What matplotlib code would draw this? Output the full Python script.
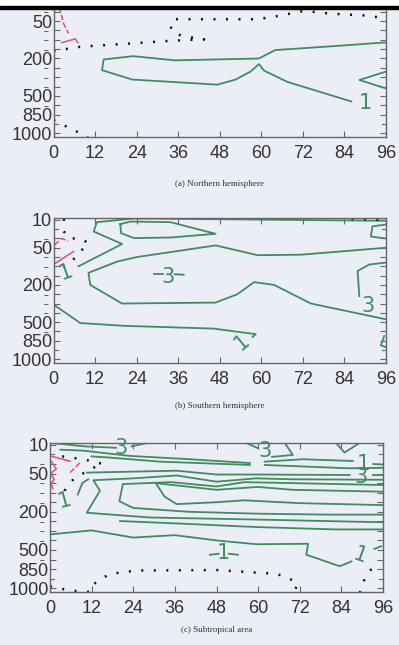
import matplotlib.pyplot as plt
from matplotlib.patches import Rectangle

plt.rcParams['font.family'] = ['Liberation Sans', 'DejaVu Sans']

# pressure levels (hPa) used on the vertical axis, top to bottom
levels = [10, 20, 30, 50, 70, 100, 150, 200, 250, 300, 400, 500, 700, 850, 925, 1000]
named_idx = [0, 3, 7, 11, 13, 15]
named_labels = ['10', '50', '200', '500', '850', '1000']
dash_idx = [2, 4, 5, 6, 8, 9, 10, 12]
plain_idx = [1, 14]
hours = [0, 12, 24, 36, 48, 60, 72, 84, 96]
captions = ['(a) Northern hemisphere', '(b) Southern hemisphere', '(c) Subtropical area']

# contour lines: hour, level index (0 = 10 hPa)
# (a) Northern hemisphere
a_g1_h = [96, 95, 80, 64, 59.3, 35, 23, 14.5, 14, 22.7, 47.3, 52.6, 56.9, 59.3, 60.8, 67.5, 86]
a_g1_k = [5.3, 5.3, 5.7, 6.1, 7.0, 7.2, 6.75, 7.1, 8.25, 9.25, 9.8, 9.25, 8.4, 7.6, 8.3, 9.5, 11.6]
a_g2_h = [96, 88.3, 96]
a_g2_k = [8.4, 9.3, 10.2]
a_d1_h = [0, 7.7, 22, 34, 43.5, 40, 37.5, 34.7, 33.8, 34.7, 59, 65.6, 72.4, 80, 90, 96]
a_d1_k = [6.2, 5.75, 5.4, 5.1, 4.95, 4.75, 4.6, 4.3, 3.6, 2.8, 2.8, 2.4, 1.9, 2.2, 2.4, 2.7]
a_d2_h = [0, 7.7, 10.5]
a_d2_k = [13.6, 15.0, 15.6]
a_r1_h = [1.0, 2.9, 4.3]
a_r1_k = [0.5, 3.25, 4.3]
a_r2_h = [2.4, 6.3, 7.0]
a_r2_k = [5.3, 4.9, 5.3]
a_labels = [(90, 11.8, '1', 0)]

# (b) Southern hemisphere
b_g1_h = [7.2, 19.8, 11.6, 12.5, 23.2, 96]
b_g1_k = [5.0, 2.6, 1.25, 0.25, -0.15, 0.1]
b_g2_h = [19.3, 22.2, 33.8, 46.8, 33.8, 23.2, 19.5, 19.3]
b_g2_k = [0.46, 0.18, 0.25, 1.5, 1.9, 1.96, 1.43, 0.46]
b_g3_h = [96, 71.4, 58.9, 46.8, 24.1, 18.3, 10.1, 10.6, 19.8, 46.8, 53.1, 57.9, 63.7, 74.3, 96]
b_g3_k = [3.0, 3.75, 3.8, 2.75, 4.0, 4.5, 5.7, 7.0, 9.0, 8.9, 8.0, 6.7, 7.0, 9.0, 10.7]
b_g4_h = [0, 7.7, 20.3, 46.3, 58.4, 57.5]
b_g4_k = [9.1, 11.1, 11.4, 11.7, 12.3, 12.6]
b_g5_h = [88.3, 87.8, 91.2, 96]
b_g5_k = [8.2, 5.5, 4.8, 4.6]
b_g6_h = [96, 92.1, 91.6, 96]
b_g6_k = [0.5, 0.7, 1.8, 2.0]
b_g7_h = [29, 31.5]
b_g7_k = [5.85, 5.85]
b_g8_h = [35, 37.6]
b_g8_k = [5.85, 5.9]
b_g9_h = [95.5, 94.5, 96]
b_g9_k = [12.5, 13.5, 13.7]
b_d1_h = [3.0, 2.9, 4.5, 7.7, 10.1, 7.0, 5.0, 1.0]
b_d1_k = [-0.1, 1.2, 2.0, 2.0, 2.5, 3.7, 4.6, 5.3]
b_d2_h = [86, 96]
b_d2_k = [-0.1, 0.0]
b_r1_h = [0.3, 2.4, 4.3]
b_r1_k = [2.7, 2.0, 2.3]
b_r2_h = [0, 5.8]
b_r2_k = [4.8, 3.4]
b_labels = [(3.6, 5.6, '1', 20), (33.2, 6.2, '3', 0), (90.7, 9.3, '3', 0), (54.5, 13.2, '1', 40)]

# (c) Subtropical area
c_g1_h = [0.5, 10, 19.0]
c_g1_k = [-0.2, 0.15, 0.3]
c_g2_h = [23.5, 28]
c_g2_k = [0.15, -0.2]
c_g3_h = [56.6, 60.0]
c_g3_k = [-0.2, 0.35]
c_g4_h = [64.0, 70, 67.7]
c_g4_k = [1.25, 1.05, -0.2]
c_g5_h = [82.5, 84.9, 88.8]
c_g5_k = [-0.2, 0.8, -0.1]
c_g6_h = [3, 9.6, 23, 40.3, 57.6]
c_g6_k = [0.5, 0.6, 1.15, 1.5, 1.9]
c_g7_h = [61.9, 72.9, 87.3]
c_g7_k = [1.75, 1.5, 1.68]
c_g8_h = [93.2, 96]
c_g8_k = [2.0, 2.05]
c_g9_h = [12, 17.3, 31.7, 57.6]
c_g9_k = [1.2, 1.33, 1.75, 2.1]
c_g10_h = [61.9, 86.4, 96]
c_g10_k = [2.1, 2.45, 2.4]
c_g11_h = [10.6, 36.5, 48, 59.5, 86.4]
c_g11_k = [2.9, 2.7, 3.1, 3.1, 3.15]
c_g12_h = [93, 96]
c_g12_k = [3.1, 3.1]
c_g13_h = [96, 70, 59.5, 48, 36.5, 24, 12.5, 14.4, 10.6, 28.8, 57.6, 96]
c_g13_k = [3.65, 3.6, 3.5, 3.85, 3.2, 3.5, 3.7, 4.8, 7.1, 7.6, 7.8, 8.1]
c_g14_h = [96, 70, 56, 48, 35, 21, 20, 24, 40, 60, 80, 96]
c_g14_k = [4.2, 4.0, 3.9, 4.35, 3.9, 4.1, 5.9, 6.6, 7.0, 7.2, 7.3, 7.3]
c_g15_h = [96, 70, 60, 48, 30.5, 33, 36.5, 48, 56, 72, 96]
c_g15_k = [4.9, 4.7, 4.4, 4.7, 4.0, 5.4, 6.2, 6.0, 5.8, 6.1, 6.3]
c_g16_h = [20.2, 38.4, 59.5, 82.5, 96]
c_g16_k = [7.97, 8.25, 8.6, 8.85, 8.85]
c_g17_h = [0, 12, 24, 36, 48, 59.5, 74.4, 73.9, 83.5, 86.9]
c_g17_k = [9.37, 8.95, 9.7, 9.45, 10.0, 10.4, 10.35, 11.5, 12.7, 12.2]
c_g18_h = [11, 9.3, 8.0]
c_g18_k = [3.6, 4.0, 5.2]
c_g19_h = [46.1, 48.6]
c_g19_k = [11.5, 11.4]
c_g20_h = [51.6, 54.2]
c_g20_k = [11.4, 11.5]
c_g21_h = [93.5, 95.5]
c_g21_k = [10.9, 10.6]
c_d1_h = [0, 5.8, 11.5, 12.5, 14.4, 17.3, 25, 48, 65.3, 69.1, 71.5, 70]
c_d1_k = [14.8, 15.25, 15.4, 14.6, 14.1, 13.5, 13.15, 13.1, 13.5, 14.0, 14.6, 15.5]
c_d2_h = [89.3, 90.2, 92.1, 95]
c_d2_k = [15.5, 14.4, 13.2, 12.3]
c_d3_h = [3.5, 9.6, 16.5]
c_d3_k = [1.2, 1.5, 2.1]
c_d4_h = [13, 9.5, 6.5, 4.5, 3.5]
c_d4_k = [2.3, 3.0, 3.7, 4.6, 5.3]
c_r1_h = [0, 5.8]
c_r1_k = [1.15, 1.7]
c_r2_h = [0.3, 1.8, 0.2, 1.2, 0.3, 0.8]
c_r2_k = [1.7, 2.5, 3.0, 3.6, 4.1, 4.6]
c_r3_h = [5.8, 9.1]
c_r3_k = [2.9, 1.7]
c_labels = [(20.6, 0.35, '3', 0), (62.0, 0.65, '3', 0), (90.2, 2.0, '1', 0), (89.7, 3.35, '3', 0),
            (4.1, 5.8, '1', 15), (50.0, 11.3, '1', 0), (89.3, 11.6, '1', -20)]

panels = [
    ([(a_g1_h, a_g1_k), (a_g2_h, a_g2_k)],
     [(a_d1_h, a_d1_k), (a_d2_h, a_d2_k)],
     [(a_r1_h, a_r1_k, '--'), (a_r2_h, a_r2_k, '-')],
     a_labels),
    ([(b_g1_h, b_g1_k), (b_g2_h, b_g2_k), (b_g3_h, b_g3_k), (b_g4_h, b_g4_k), (b_g5_h, b_g5_k),
      (b_g6_h, b_g6_k), (b_g7_h, b_g7_k), (b_g8_h, b_g8_k), (b_g9_h, b_g9_k)],
     [(b_d1_h, b_d1_k), (b_d2_h, b_d2_k)],
     [(b_r1_h, b_r1_k, '--'), (b_r2_h, b_r2_k, '-')],
     b_labels),
    ([(c_g1_h, c_g1_k), (c_g2_h, c_g2_k), (c_g3_h, c_g3_k), (c_g4_h, c_g4_k), (c_g5_h, c_g5_k),
      (c_g6_h, c_g6_k), (c_g7_h, c_g7_k), (c_g8_h, c_g8_k), (c_g9_h, c_g9_k), (c_g10_h, c_g10_k),
      (c_g11_h, c_g11_k), (c_g12_h, c_g12_k), (c_g13_h, c_g13_k), (c_g14_h, c_g14_k),
      (c_g15_h, c_g15_k), (c_g16_h, c_g16_k), (c_g17_h, c_g17_k), (c_g18_h, c_g18_k),
      (c_g19_h, c_g19_k), (c_g20_h, c_g20_k), (c_g21_h, c_g21_k)],
     [(c_d1_h, c_d1_k), (c_d2_h, c_d2_k), (c_d3_h, c_d3_k), (c_d4_h, c_d4_k)],
     [(c_r1_h, c_r1_k, '-'), (c_r2_h, c_r2_k, '-'), (c_r3_h, c_r3_k, '--')],
     c_labels),
]

BG = '#eceef7'
GREEN = '#3f8c5f'
RED = '#e2506a'

W, H = 399, 645
fig = plt.figure(figsize=(W / 100, H / 100), dpi=100, facecolor=BG)

# axes boxes in pixels: left, top, right, bottom
boxes = [(53.5, -8.8, 386, 137), (53.5, 218, 386, 363), (50, 443, 383, 592)]
caption_y = [184, 406, 630]

for i, ((x0, y0, x1, y1), (greens, dots, reds, labels), cap, cy) in enumerate(
        zip(boxes, panels, captions, caption_y)):
    ax = fig.add_axes([x0 / W, 1 - y1 / H, (x1 - x0) / W, (y1 - y0) / H])
    ax.set_facecolor(BG)
    for h, k in greens:
        ax.plot(h, k, color=GREEN, lw=1.3)
    for h, k in dots:
        ax.plot(h, k, color='#111111', lw=1.8, linestyle=(0, (0.8, 4.2)))
    for h, k, ls in reds:
        ax.plot(h, k, color=RED, lw=1.1, linestyle=ls)
    for h, k, t, rot in labels:
        ax.text(h, k, t, color=GREEN, fontsize=15, rotation=rot, ha='center', va='center',
                family='DejaVu Sans')
    ax.set_xlim(0, 96)
    ax.set_ylim(15.4, -0.2)
    ax.set_xticks(hours)
    # the top panel is cut by the page edge, so its 10 hPa label is not visible
    ylabels = [''] + named_labels[1:] if i == 0 else named_labels
    ax.set_yticks(named_idx)
    ax.set_yticklabels(ylabels)
    ax.set_yticks(dash_idx, minor=True)
    ax.set_yticklabels(['–'] * len(dash_idx), minor=True)
    ax.tick_params(which='both', direction='in', top=True, right=True, length=4, width=0.8,
                   color='#666666', labelcolor='#333333')
    ax.tick_params(which='major', labelsize=13)
    ax.tick_params(axis='x', pad=6)
    ax.tick_params(axis='y', which='major', pad=1)
    ax.tick_params(axis='y', which='minor', pad=4, labelsize=6)
    for t in ax.get_yticklabels(minor=True):
        t.set_fontweight('bold')
    # unlabelled inner ticks at the remaining levels
    for k in plain_idx:
        ax.plot([0, 1.2], [k, k], color='#666666', lw=0.8, clip_on=False)
        ax.plot([94.8, 96], [k, k], color='#666666', lw=0.8, clip_on=False)
    for s in ax.spines.values():
        s.set_color('#666666')
        s.set_linewidth(1.0)
    fig.text((x0 + x1) / 2 / W, 1 - cy / H, cap, ha='center', va='center', fontsize=6.5,
             family='Liberation Serif', color='#333333')

# scan edge at the top
fig.patches.append(Rectangle((0, 1 - 6 / H), 1, 6 / H, transform=fig.transFigure, color='white', zorder=5))
fig.patches.append(Rectangle((0, 1 - 8.5 / H), 1, 2.5 / H, transform=fig.transFigure, color='black', zorder=5))

fig.savefig('out.png', dpi=100, facecolor=BG)
